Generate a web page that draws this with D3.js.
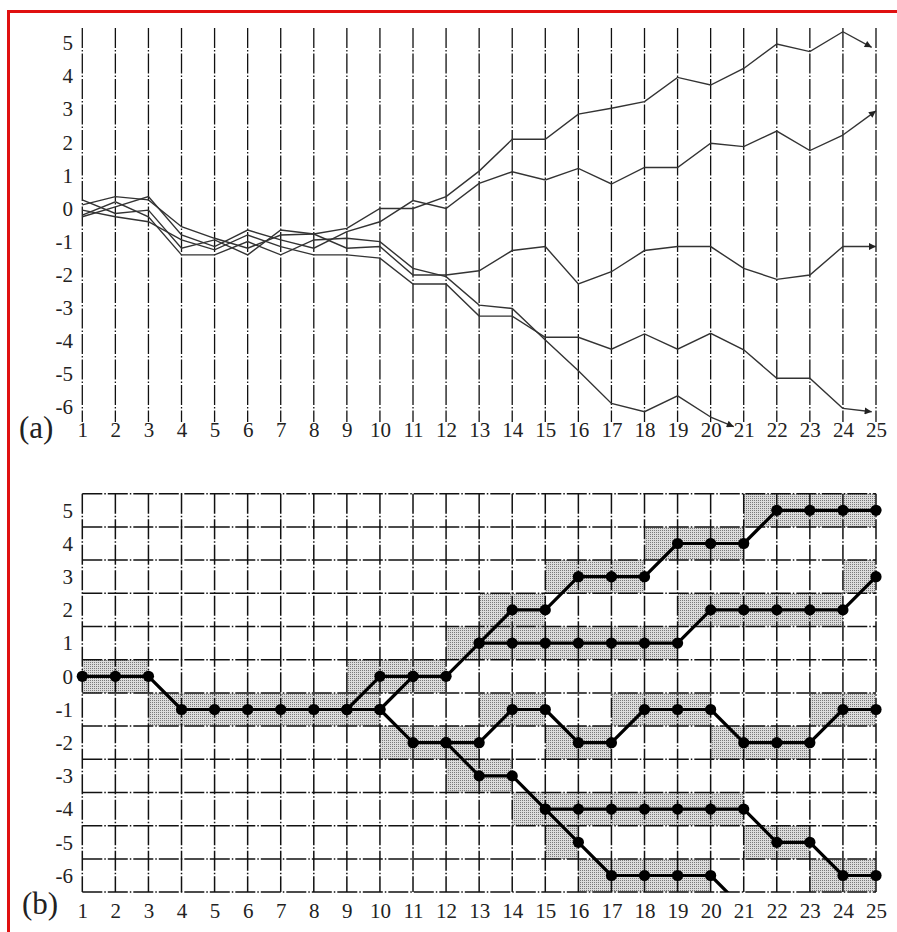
<!DOCTYPE html>
<html><head><meta charset="utf-8">
<script src="https://cdn.jsdelivr.net/npm/d3@7"></script>
<style>body{margin:0;background:#fff}</style>
</head><body>
<svg id="c" width="897" height="932"></svg>
<script>
// ---------- data ----------
const steps = d3.range(1, 26);                 // 1..25
const yTicks = [5, 4, 3, 2, 1, 0, -1, -2, -3, -4, -5, -6];

// panel (a): five trajectories, values at steps 1..24, plus arrow tips
const trajA1 = [0.11, 0.36, 0.26, -0.55, -0.9, -1.2, -0.8, -0.77, -0.6, 0.0, 0.0, 0.36, 1.13, 2.09, 2.09, 2.85, 3.03, 3.23, 3.96, 3.73, 4.23, 4.97, 4.74, 5.34];
const trajA2 = [-0.25, 0.05, 0.36, -0.8, -1.15, -0.65, -0.95, -1.2, -0.7, -0.4, 0.24, 0.0, 0.76, 1.11, 0.86, 1.21, 0.74, 1.24, 1.24, 1.97, 1.87, 2.34, 1.75, 2.22];
const trajA3 = [0.26, -0.15, -0.05, -1.2, -0.95, -1.4, -0.65, -0.77, -1.2, -1.15, -2.01, -2.01, -1.88, -1.27, -1.15, -2.28, -1.91, -1.27, -1.15, -1.15, -1.81, -2.14, -2.01, -1.15];
const trajA4 = [-0.05, -0.25, -0.4, -0.95, -1.25, -0.8, -1.15, -1.4, -1.4, -1.5, -2.28, -2.28, -3.25, -3.25, -3.89, -3.89, -4.25, -3.79, -4.25, -3.77, -4.27, -5.13, -5.13, -6.04];
const trajA5 = [-0.2, 0.2, -0.25, -1.4, -1.4, -1.0, -1.4, -0.95, -0.9, -1.0, -1.81, -2.06, -2.92, -3.02, -3.97, -4.9, -5.89, -6.14, -5.66, -6.3];
const arrowTipsA = [[24.87, 4.87], [25, 2.95], [25, -1.15], [24.87, -6.14], [20.7, -6.59]];

// panel (b): branching lattice paths (first step, values)
const pathStartsB = [1, 9, 10, 13, 12, 15];
const pathB1 = [0, 0, 0, -1, -1, -1, -1, -1, -1, -1, -2, -2, -2, -1, -1, -2, -2, -1, -1, -1, -2, -2, -2, -1, -1];
const pathB2 = [-1, 0, 0, 0, 1, 2, 2, 3, 3, 3, 4, 4, 4, 5, 5, 5, 5];
const pathB3 = [-1, 0];
const pathB4 = [1, 1, 1, 1, 1, 1, 1, 2, 2, 2, 2, 2, 3];
const pathB5 = [-2, -3, -3, -4, -5, -6, -6, -6, -6, -7];
const pathB6 = [-4, -4, -4, -4, -4, -4, -4, -5, -5, -6, -6];

// ---------- drawing ----------
const svg = d3.select('#c');
const font = "'Liberation Serif', 'Times New Roman', serif";
const fmt = d => String(d);   // plain hyphen-minus as in the original

const x = d3.scaleLinear().domain([1, 25]).range([82.3, 876]);
const ya = d3.scaleLinear().domain([5, -6]).range([43, 407.1]);
const yb = d3.scaleLinear().domain([5, -6]).range([510.3, 875.5]);

// red frame
svg.append('path').attr('d', 'M8.5,932 L8.5,11.5 L897,11.5')
  .attr('fill', 'none').attr('stroke', '#e01010').attr('stroke-width', 3);

// defs
const defs = svg.append('defs');
const pat = defs.append('pattern').attr('id', 'stip').attr('patternUnits', 'userSpaceOnUse')
  .attr('width', 2).attr('height', 2);
pat.append('rect').attr('width', 2).attr('height', 2).attr('fill', '#dcdcdc');
pat.append('rect').attr('width', 1).attr('height', 1).attr('fill', '#7a7a7a');
defs.append('marker').attr('id', 'arr').attr('viewBox', '0 0 10 10')
  .attr('refX', 10).attr('refY', 5).attr('markerWidth', 9).attr('markerHeight', 7)
  .attr('markerUnits', 'userSpaceOnUse').attr('orient', 'auto')
  .append('path').attr('d', 'M0,0 L10,5 L0,10 Z').attr('fill', '#222');
defs.append('clipPath').attr('id', 'gridClip').append('rect')
  .attr('x', x(1)).attr('y', yb(5.5)).attr('width', x(25) - x(1)).attr('height', yb(-6.5) - yb(5.5));

const dash = '20,2,1.5,2';

// ===== panel (a) =====
const ga = svg.append('g');
ga.selectAll('line.v').data(steps).join('line')
  .attr('x1', d => x(d)).attr('x2', d => x(d))
  .attr('y1', 28).attr('y2', 422)
  .attr('stroke', '#111').attr('stroke-width', 1.3).attr('stroke-dasharray', dash);

const seriesA = [trajA1, trajA2, trajA3, trajA4, trajA5];
const lineA = d3.line().x(d => x(d[0])).y(d => ya(d[1]));
seriesA.forEach((s, i) => {
  const pts = s.map((v, k) => [k + 1, v]);
  ga.append('path').datum(pts).attr('d', lineA)
    .attr('fill', 'none').attr('stroke', '#333').attr('stroke-width', 1.4);
  ga.append('path').datum([pts[pts.length - 1], arrowTipsA[i]]).attr('d', lineA)
    .attr('fill', 'none').attr('stroke', '#333').attr('stroke-width', 1.4)
    .attr('marker-end', 'url(#arr)');
});

ga.append('g').attr('transform', 'translate(73,0)')
  .call(d3.axisLeft(ya).tickValues(yTicks).tickSize(0).tickPadding(0).tickFormat(fmt));
ga.append('g').attr('transform', 'translate(0,422)')
  .call(d3.axisBottom(x).tickValues(steps).tickSize(0).tickPadding(0).tickFormat(fmt));
ga.append('text').attr('x', 19).attr('y', 438).text('(a)')
  .attr('font-family', font).attr('font-size', 31).attr('fill', '#222');

// ===== panel (b) =====
const gb = svg.append('g');
const pathsB = [pathB1, pathB2, pathB3, pathB4, pathB5, pathB6].map((vals, i) =>
  vals.map((v, k) => [pathStartsB[i] + k, v]));

// shaded cells: step t -> t+1 shades the cell of the arrival level
const cells = [];
pathsB.forEach(p => {
  for (let k = 1; k < p.length; k++) {
    const t = p[k - 1][0], v = p[k][1];
    if (v >= -6 && v <= 5) cells.push([t, v]);
  }
});
gb.selectAll('rect.cell').data(cells).join('rect')
  .attr('x', d => x(d[0])).attr('width', d => x(d[0] + 1) - x(d[0]))
  .attr('y', d => yb(d[1] + 0.5)).attr('height', d => yb(d[1] - 0.5) - yb(d[1] + 0.5))
  .attr('fill', 'url(#stip)');

// grid
gb.selectAll('line.v').data(steps).join('line')
  .attr('x1', d => x(d)).attr('x2', d => x(d))
  .attr('y1', yb(5.5)).attr('y2', yb(-6.5))
  .attr('stroke', '#111').attr('stroke-width', 1.5).attr('stroke-dasharray', dash);
const hLevels = d3.range(5.5, -7, -1);
gb.selectAll('line.h').data(hLevels).join('line')
  .attr('x1', x(1)).attr('x2', x(25))
  .attr('y1', d => yb(d)).attr('y2', d => yb(d))
  .attr('stroke', '#111').attr('stroke-width', 1.5).attr('stroke-dasharray', dash);

const lineB = d3.line().x(d => x(d[0])).y(d => yb(d[1]));
const gPaths = gb.append('g').attr('clip-path', 'url(#gridClip)');
pathsB.forEach(p => {
  gPaths.append('path').datum(p).attr('d', lineB)
    .attr('fill', 'none').attr('stroke', '#000').attr('stroke-width', 3.2)
    .attr('stroke-linejoin', 'round');
});
const dots = [];
pathsB.forEach(p => p.forEach(d => { if (d[1] >= -6 && d[1] <= 5) dots.push(d); }));
gb.selectAll('circle').data(dots).join('circle')
  .attr('cx', d => x(d[0])).attr('cy', d => yb(d[1])).attr('r', 5.6).attr('fill', '#000');

gb.append('g').attr('transform', 'translate(73,0)')
  .call(d3.axisLeft(yb).tickValues(yTicks).tickSize(0).tickPadding(0).tickFormat(fmt));
gb.append('g').attr('transform', 'translate(0,903)')
  .call(d3.axisBottom(x).tickValues(steps).tickSize(0).tickPadding(0).tickFormat(fmt));
gb.append('text').attr('x', 22).attr('y', 914).text('(b)')
  .attr('font-family', font).attr('font-size', 31).attr('fill', '#222');

// axis styling
svg.selectAll('.domain').remove();
svg.selectAll('.tick text').attr('font-family', font).attr('font-size', 21).attr('fill', '#222');
</script>
</body></html>
